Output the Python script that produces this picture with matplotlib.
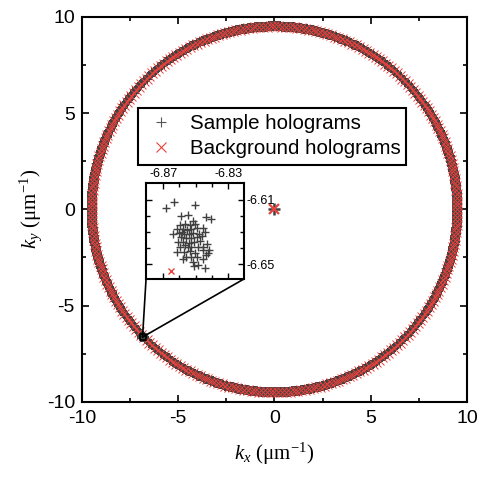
import numpy as np
import matplotlib
matplotlib.use("Agg")
import matplotlib.pyplot as plt
from matplotlib.patches import ConnectionPatch

plt.rcParams['font.family'] = ['Liberation Sans', 'DejaVu Sans']
plt.rcParams['axes.unicode_minus'] = False
plt.rcParams['mathtext.fontset'] = 'custom'
plt.rcParams['mathtext.rm'] = 'Liberation Serif'
plt.rcParams['mathtext.it'] = 'Liberation Serif:italic'

# ---- data ----
ring_radius = 9.5          # illumination ring radius (um^-1)
ring_count = 600           # number of illumination angles on the ring
center_k = [0.0, 0.0]      # normal-incidence hologram

cluster_x = [-6.8685, -6.8634, -6.8505, -6.8593, -6.8548, -6.8439, -6.8407, -6.8515,
             -6.8597, -6.8567, -6.8536, -6.8505, -6.8614, -6.8581, -6.8552, -6.8526,
             -6.8495, -6.8458, -6.8638, -6.8603, -6.8573, -6.8540, -6.8515, -6.8478,
             -6.8444, -6.8593, -6.8560, -6.8526, -6.8495, -6.8464, -6.8608, -6.8577,
             -6.8540, -6.8509, -6.8474, -6.8433, -6.8597, -6.8567, -6.8526, -6.8485,
             -6.8458, -6.8618, -6.8573, -6.8536, -6.8505, -6.8454, -6.8417, -6.8560,
             -6.8526, -6.8495, -6.8437, -6.8515, -6.8485, -6.8444, -6.8581, -6.8454,
             -6.8427, -6.8546, -6.8587, -6.8511]
cluster_y = [-6.6149, -6.6115, -6.6135, -6.6203, -6.6197, -6.6207, -6.6221, -6.6231,
             -6.6258, -6.6252, -6.6258, -6.6252, -6.6279, -6.6279, -6.6285, -6.6279,
             -6.6272, -6.6272, -6.6309, -6.6305, -6.6309, -6.6309, -6.6305, -6.6309,
             -6.6299, -6.6330, -6.6334, -6.6334, -6.6330, -6.6326, -6.6361, -6.6361,
             -6.6367, -6.6361, -6.6354, -6.6371, -6.6391, -6.6381, -6.6391, -6.6391,
             -6.6391, -6.6422, -6.6422, -6.6416, -6.6428, -6.6412, -6.6412, -6.6453,
             -6.6453, -6.6457, -6.6443, -6.6484, -6.6504, -6.6525, -6.6469, -6.6469,
             -6.6432, -6.6391, -6.6299, -6.6510]
bg_cluster = [-6.8650, -6.6540]

main_ticks = [-10, -5, 0, 5, 10]
inset_xticks = [-6.87, -6.83]
inset_yticks = [-6.61, -6.65]

sample_color = '#404040'
bg_color = '#e8423c'

# ---- geometry of ring ----
theta = np.linspace(0, 2 * np.pi, ring_count, endpoint=False)
ring_x = ring_radius * np.cos(theta)
ring_y = ring_radius * np.sin(theta)

fig = plt.figure(figsize=(4.82, 4.79), dpi=100)
ax = fig.add_axes([0.170, 0.161, 0.799, 0.804])

ax.plot(ring_x, ring_y, '+', color=sample_color, ms=7, mew=1.5, ls='none')
ax.plot(ring_x[::2], ring_y[::2], 'x', color=bg_color, ms=7, mew=0.7, ls='none')
ax.plot(cluster_x, cluster_y, '+', color=sample_color, ms=7, mew=1.6, ls='none')
ax.plot([center_k[0]], [center_k[1]], '+', color=sample_color, ms=8, mew=1.8, ls='none')
ax.plot([center_k[0]], [center_k[1]], 'x', color=bg_color, ms=7, mew=1.6, ls='none')
ax.plot([np.mean(cluster_x)], [np.mean(cluster_y)], 's', mfc='none', mec='black',
        ms=5, mew=1.2, ls='none')

# legend handles
h1, = ax.plot([], [], '+', color='#555555', ms=7, mew=0.8, ls='none', label='Sample holograms')
h2, = ax.plot([], [], 'x', color=bg_color, ms=7, mew=0.8, ls='none', label='Background holograms')

ax.set_xlim(-10, 10)
ax.set_ylim(-10, 10)
ax.set_xticks(main_ticks)
ax.set_yticks(main_ticks)
ax.set_xticks([-7.5, -2.5, 2.5, 7.5], minor=True)
ax.set_yticks([-7.5, -2.5, 2.5, 7.5], minor=True)
ax.tick_params(which='both', direction='in', top=True, right=True, width=1.2,
               labelsize=14)
ax.tick_params(axis='x', which='major', length=5, pad=6)
ax.tick_params(axis='y', which='major', length=5, pad=5)
ax.tick_params(which='minor', length=3)
for s in ax.spines.values():
    s.set_linewidth(1.5)
ax.set_xlabel(r'$k_x$ ($\mathrm{\mu}$m$^{-1}$)', fontsize=15, labelpad=10,
              family='Liberation Serif')
ax.set_ylabel(r'$k_y$ ($\mathrm{\mu}$m$^{-1}$)', fontsize=15, labelpad=2,
              family='Liberation Serif')

leg = ax.legend(handles=[h1, h2], loc='upper left', bbox_to_anchor=(0.146, 0.763),
                borderaxespad=0, fontsize=14.8,
                frameon=True, fancybox=False, edgecolor='black', framealpha=1,
                handletextpad=0.6, borderpad=0.3, labelspacing=0.3, handlelength=1.6)
leg.get_frame().set_linewidth(1.5)

# ---- inset ----
ins = fig.add_axes([0.303, 0.4175, 0.203, 0.200])
ins.plot(cluster_x, cluster_y, '+', color=sample_color, ms=6, mew=1.0, ls='none')
ins.plot([bg_cluster[0]], [bg_cluster[1]], 'x', color=bg_color, ms=5, mew=1.0, ls='none')
ins.set_xlim(-6.8806, -6.8203)
ins.set_ylim(-6.659, -6.5998)
ins.set_xticks(inset_xticks)
ins.set_yticks(inset_yticks)
ins.set_xticklabels(['%.2f' % v for v in inset_xticks])
ins.set_yticklabels(['%.2f' % v for v in inset_yticks])
ins.set_xticks([-6.86, -6.85, -6.84], minor=True)
ins.set_yticks([-6.62, -6.63, -6.64], minor=True)
ins.xaxis.tick_top()
ins.yaxis.tick_right()
ins.tick_params(which='both', direction='in', top=True, bottom=True, left=True,
                right=True, labelsize=9, width=1.0, pad=2)
ins.tick_params(which='major', length=4)
ins.tick_params(which='minor', length=3)
for s in ins.spines.values():
    s.set_linewidth(1.5)

for corner in [(0, 0), (1, 0)]:
    con = ConnectionPatch(xyA=corner, coordsA=ins.transAxes,
                          xyB=(np.mean(cluster_x), np.mean(cluster_y)), coordsB=ax.transData,
                          color='black', lw=1.2)
    fig.add_artist(con)

fig.savefig('out.png', dpi=100)
